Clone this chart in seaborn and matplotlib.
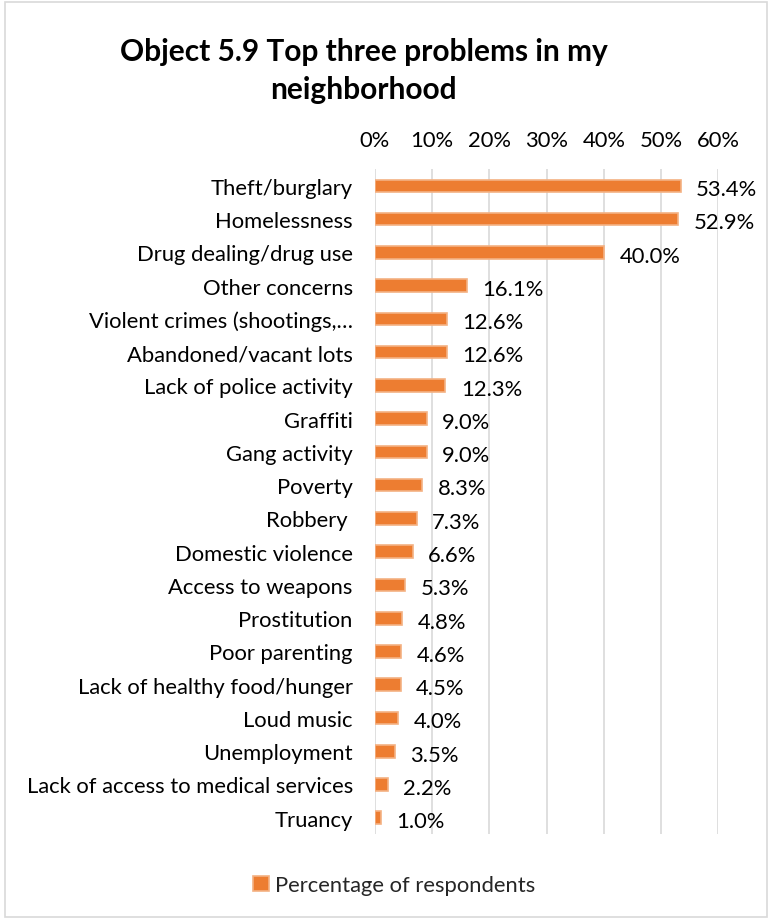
import matplotlib
matplotlib.use("Agg")
import matplotlib.pyplot as plt
from matplotlib.patches import Rectangle
from matplotlib.ticker import PercentFormatter
import seaborn as sns
import pandas as pd

problems = [
    "Theft/burglary", "Homelessness", "Drug dealing/drug use", "Other concerns",
    "Violent crimes (shootings,\u2026", "Abandoned/vacant lots", "Lack of police activity",
    "Graffiti", "Gang activity", "Poverty", "Robbery ", "Domestic violence",
    "Access to weapons", "Prostitution", "Poor parenting", "Lack of healthy food/hunger",
    "Loud music", "Unemployment", "Lack of access to medical services", "Truancy",
]
percent = [53.4, 52.9, 40.0, 16.1, 12.6, 12.6, 12.3, 9.0, 9.0, 8.3, 7.3, 6.6,
           5.3, 4.8, 4.6, 4.5, 4.0, 3.5, 2.2, 1.0]
x_ticks = [0, 10, 20, 30, 40, 50, 60]
series_name = "Percentage of respondents"
title = "Object 5.9 Top three problems in my\nneighborhood"

df = pd.DataFrame({"problem": problems, "percent": percent})

sns.set_theme(style="white")
plt.rcParams["font.family"] = ["Lato", "DejaVu Sans"]

orange = "#ED7D31"
fs = 15.8
fig = plt.figure(figsize=(7.7, 9.2), dpi=100)
ax = fig.add_axes([0.487, 0.092, 0.446, 0.723])

sns.barplot(data=df, x="percent", y="problem", orient="h", color=orange,
            saturation=1, width=0.38, edgecolor="#F4B183", linewidth=1.2,
            label=series_name, legend=False, ax=ax)

ax.set_xlim(0, 60)
ax.set_ylim(len(problems) - 0.5, -0.5)
ax.set_xticks(x_ticks)
ax.xaxis.set_major_formatter(PercentFormatter(decimals=0))
ax.xaxis.tick_top()
ax.tick_params(axis="x", length=0, pad=14, labelsize=fs, colors="#000000")
ax.tick_params(axis="y", length=0, pad=16, labelsize=fs, colors="#000000")
ax.grid(axis="x", color="#D9D9D9", linewidth=1.2)
ax.set_axisbelow(True)
for s in ax.spines.values():
    s.set_visible(False)
ax.set_xlabel("")
ax.set_ylabel("")

for i, v in enumerate(percent):
    ax.text(v + 2.7, i + 0.1, f"{v:.1f}%", va="center", ha="left",
            fontsize=fs, color="#000000")

fig.text(0.472, 0.923, title, ha="center", va="center", fontsize=21.5,
         fontweight="bold", linespacing=1.42, color="#000000")

handles, labels = ax.get_legend_handles_labels()
if ax.get_legend() is not None:
    ax.get_legend().remove()
fig.legend(handles[:1], labels[:1], loc="center", bbox_to_anchor=(0.512, 0.037),
           frameon=False, fontsize=fs, handlelength=0.7, handleheight=0.7,
           handletextpad=0.3)

fig.patches.append(Rectangle((0.006, 0.002), 0.99, 0.995, transform=fig.transFigure,
                             fill=False, edgecolor="#D9D9D9", linewidth=1.2))

fig.savefig("out.png", dpi=100, facecolor="white")
